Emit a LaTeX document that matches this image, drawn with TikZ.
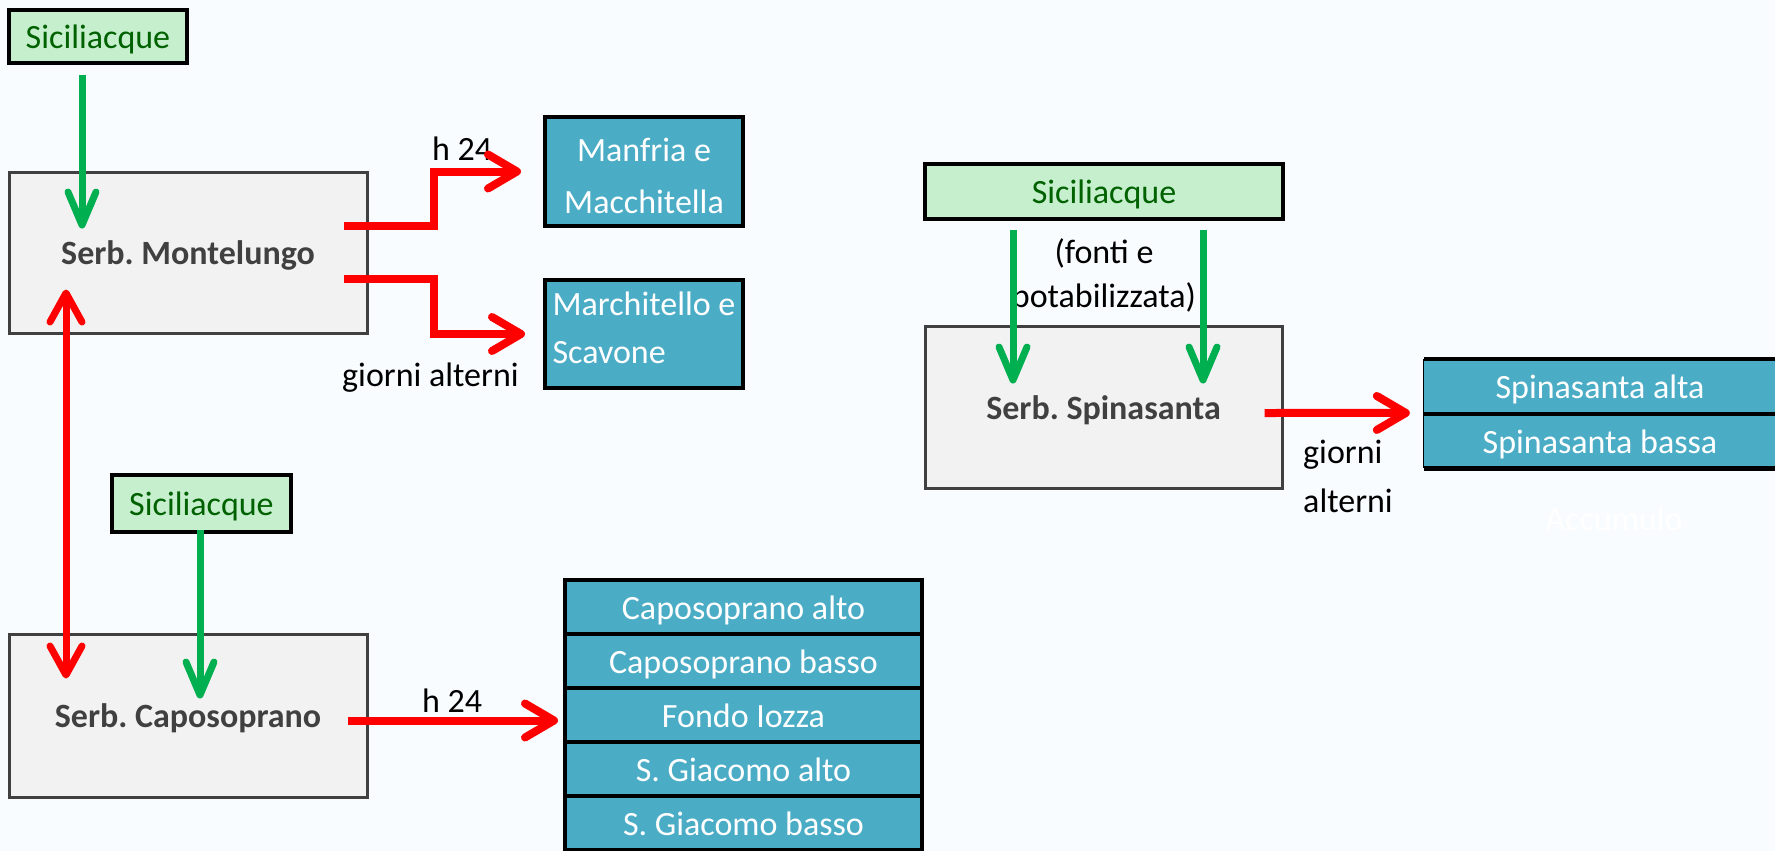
\documentclass[tikz,border=0pt]{standalone}
\usepackage{fontspec}
\setmainfont{Carlito}
\usetikzlibrary{arrows.meta,calc}
\definecolor{bgc}{RGB}{248,252,254}
\definecolor{grayfill}{RGB}{242,242,242}
\definecolor{grayline}{RGB}{64,64,64}
\definecolor{sicfill}{RGB}{198,239,206}
\definecolor{sictext}{RGB}{0,97,0}
\definecolor{bluefill}{RGB}{75,172,198}
\definecolor{garrowc}{RGB}{0,176,80}
\begin{document}
\begin{tikzpicture}[x=1pt,y=-1pt,
  every node/.style={font=\fontsize{34}{41}\selectfont\frenchspacing, inner sep=0pt},
  serb/.style={draw=grayline, fill=grayfill, line width=3pt, text=grayline,
    font=\fontsize{34}{41}\selectfont\bfseries\frenchspacing, text height=24pt, text depth=0pt},
  sic/.style={draw=black, fill=sicfill, line width=4pt, text=sictext, text height=24pt, text depth=0pt},
  dest/.style={draw=black, fill=bluefill, line width=4pt, text=white},
  rowbox/.style={dest, minimum width=357pt, minimum height=54pt, text height=24pt, text depth=0pt},
  spbox/.style={fill=bluefill, text=white, minimum width=352pt, minimum height=54.5pt, text height=24pt, text depth=0pt},
  lbl/.style={text=black, anchor=base west},
  rarrow/.style={draw=red, line width=8pt, -{Straight Barb[length=29pt,width=34pt,round]}},
  rdouble/.style={draw=red, line width=7pt, {Straight Barb[length=29pt,width=32pt,round]}-{Straight Barb[length=29pt,width=32pt,round]}},
  garrow/.style={draw=garrowc, line width=7pt, -{Straight Barb[length=33pt,width=28pt,round]}},
]
\fill[bgc] (0,0) rectangle (1775,851);
\useasboundingbox (0,0) rectangle (1775,851);

% left top
\node[sic, minimum width=178pt, minimum height=53pt] (sic1) at (98,36.5) {Siciliacque};
\node[serb, minimum width=358pt, minimum height=161pt] (mont) at (188,252.5) {Serb. Montelungo};
\node[dest, minimum width=198pt, minimum height=109pt, align=center,
  font=\fontsize{34}{52}\selectfont, text height=83pt, text depth=0pt] (manf) at (644,171.5) {Manfria e\\Macchitella};
\node[dest, minimum width=198pt, minimum height=108pt, align=left,
  font=\fontsize{34}{48}\selectfont, text height=58pt, text depth=0pt] (marc) at (644,334) {Marchitello e\\Scavone};

% left bottom
\node[sic, minimum width=179pt, minimum height=57pt] (sic2) at (201.5,503.5) {Siciliacque};
\node[serb, minimum width=358pt, minimum height=163pt] (capo) at (188,715.5) {Serb. Caposoprano};
\node[rowbox] (r1) at (743.5,607) {Caposoprano alto};
\node[rowbox] (r2) at (743.5,661) {Caposoprano basso};
\node[rowbox] (r3) at (743.5,715) {Fondo Iozza};
\node[rowbox] (r4) at (743.5,769) {S. Giacomo alto};
\node[rowbox] (r5) at (743.5,823) {S. Giacomo basso};

% right
\node[sic, minimum width=358pt, minimum height=55pt] (sic3) at (1104,191.5) {Siciliacque};
\node[serb, minimum width=357pt, minimum height=162pt] (spin) at (1103.5,407) {Serb. Spinasanta};
\node[spbox] (sp1) at (1600,386.5) {Spinasanta alta};
\node[spbox] (sp2) at (1600,441) {Spinasanta bassa};
\draw[line width=4.5pt] (sp1.north west) -- (sp1.north east);
\draw[line width=4pt] (sp1.south west) -- (sp1.south east);
\draw[line width=4.5pt] (sp2.south west) -- (sp2.south east);
\draw[line width=1pt] (sp1.north west) -- (sp2.south west);

% labels
\node[lbl] (h24a) at (432,160) {h 24};
\node[lbl] (galt1) at (342,386) {giorni alterni};
\node[lbl] (h24b) at (422,712) {h 24};
\node[anchor=base, align=center, font=\fontsize{34}{44}\selectfont] (fonti) at (1104,307) {(fonti e\\potabilizzata)};
\node[anchor=base west, align=left, font=\fontsize{34}{49}\selectfont] (galt2) at (1303,512) {giorni\\alterni};
\node[anchor=base, text=white] (acc) at (1614,530) {Accumulo};

% connectors
\draw[garrow] ($(sic1.south)+(-16,10)$) -- ($(mont.north)+(-106,58)$);
\draw[rdouble] ($(mont.south)+(-122,-45)$) -- ($(capo.north)+(-122,46)$);
\draw[rarrow] ($(mont.east)+(-25,-26.5)$) -- ++(90,0) |- ($(manf.west)+(-22,0)$);
\draw[rarrow] ($(mont.east)+(-25,26.5)$) -- ++(90,0) |- ($(marc.west)+(-18,0)$);
\draw[garrow] ($(sic2.south)+(-1.5,-4)$) -- ($(capo.north)+(12,66)$);
\draw[rarrow] ($(capo.east)+(-21,5)$) -- ($(r3.west)+(-5,5.5)$);
\draw[garrow] ($(sic3.south)+(-91,9)$) -- ($(spin.north)+(-90.5,59)$);
\draw[garrow] ($(sic3.south)+(99,9)$) -- ($(spin.north)+(99.5,59)$);
\draw[rarrow] ($(spin.east)+(-19,6)$) -- ($(sp1.south west)+(-14,-1)$);
\end{tikzpicture}
\end{document}
